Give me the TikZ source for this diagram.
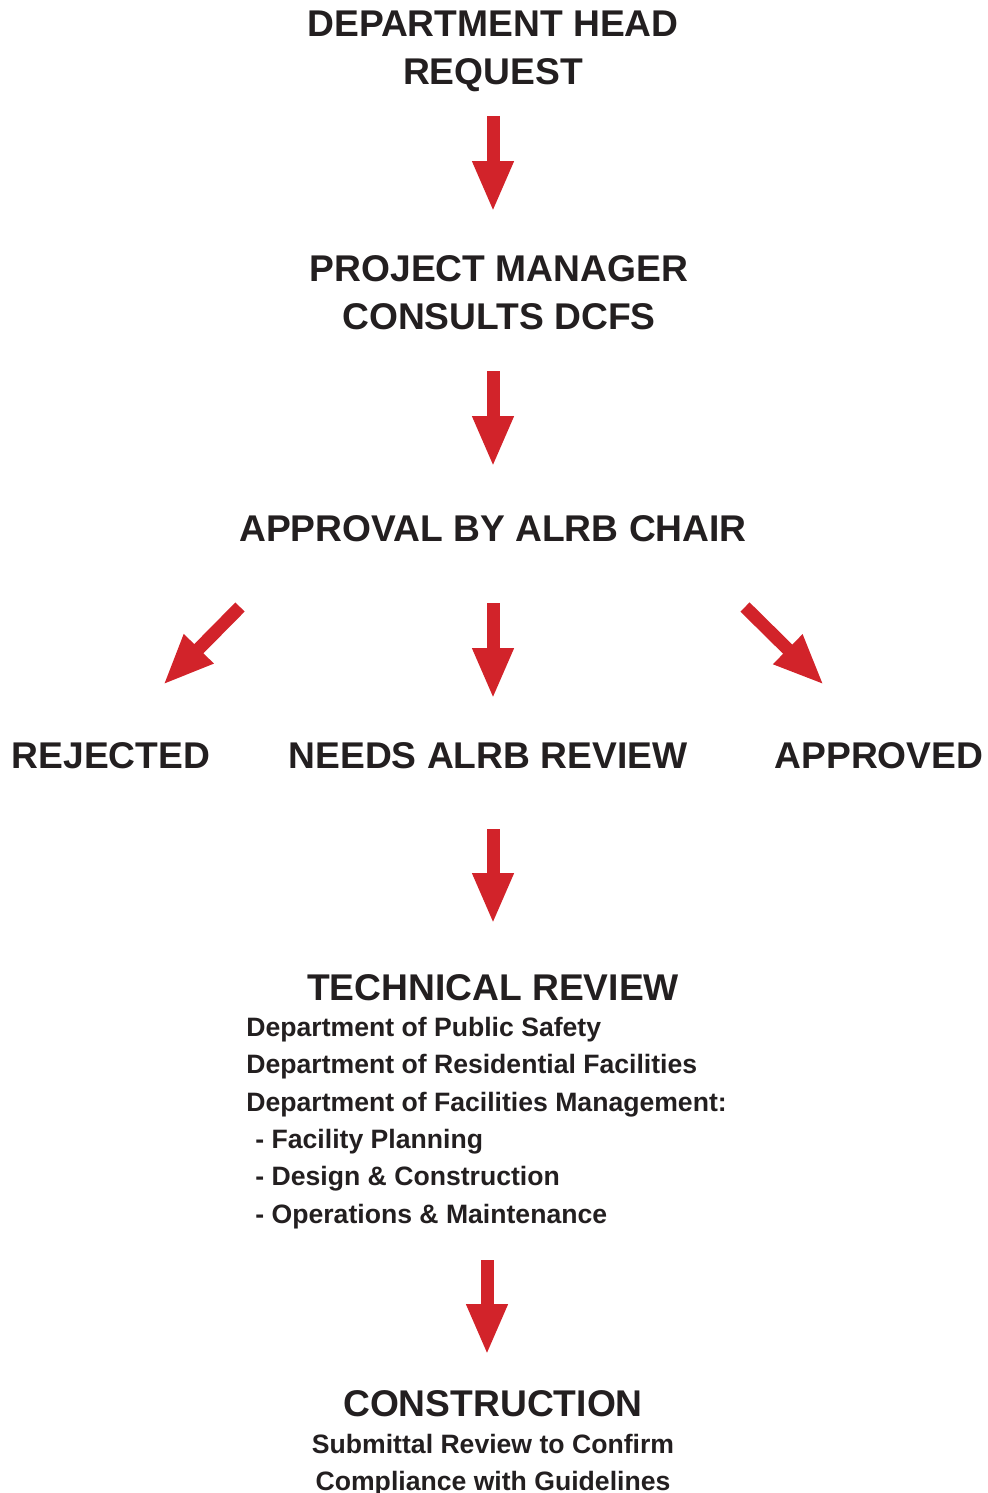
\documentclass[tikz,border=0pt]{standalone}
\usepackage{fontspec}
\setmainfont{Liberation Sans}
\usetikzlibrary{arrows.meta, positioning}
\definecolor{flowred}{HTML}{D2232A}
\definecolor{inkgray}{HTML}{231F20}

\begin{document}
\begin{tikzpicture}[x=0.5pt, y=-0.5pt,
  steptitle/.style={font=\fontsize{18.6pt}{24pt}\selectfont\bfseries, text=inkgray,
    anchor=base, inner sep=0pt},
  stepnote/.style={font=\fontsize{13.3pt}{18.75pt}\selectfont\bfseries, text=inkgray,
    anchor=base, inner sep=0pt},
  flowarrow/.style={flowred, line width=6.5pt,
    -{Triangle[length=25.5pt, width=19pt]}}]

% Page frame
\useasboundingbox (0,0) rectangle (987,1493);

% === Steps ===
\node[steptitle] (head1) at (493,37) {DEPARTMENT HEAD};
\node[steptitle] (head2) at (493,85) {REQUEST};

\node[steptitle] (pm1) at (499,281) {PROJECT MANAGER};
\node[steptitle] (pm2) at (499,329) {CONSULTS DCFS};

\node[steptitle] (chair) at (493,541) {APPROVAL BY ALRB CHAIR};

\node[steptitle] (rejected) at (111,768) {REJECTED};
\node[steptitle] (needs) at (488,768) {NEEDS ALRB REVIEW};
\node[steptitle] (approved) at (879,768) {APPROVED};

\node[steptitle] (tech) at (493,1000) {TECHNICAL REVIEW};
\node[stepnote, anchor=base west] (dps) at (246,1036) {Department of Public Safety};
\node[stepnote, anchor=base west] (drf) at (246,1073) {Department of Residential Facilities};
\node[stepnote, anchor=base west] (dfm) at (246,1111) {Department of Facilities Management:};
\node[stepnote, anchor=base west] (fp) at (255,1148) {- Facility Planning};
\node[stepnote, anchor=base west] (dc) at (255,1185) {- Design \& Construction};
\node[stepnote, anchor=base west] (om) at (255,1223) {- Operations \& Maintenance};

\node[steptitle] (constr) at (493,1416) {CONSTRUCTION};
\node[stepnote] (sub1) at (493,1453) {Submittal Review to Confirm};
\node[stepnote] (sub2) at (493,1490) {Compliance with Guidelines};

% === Arrow ends ===
\coordinate (a1s) at (493,116);  \coordinate (a1e) at (493,212);
\coordinate (a2s) at (493,371);  \coordinate (a2e) at (493,467);
\coordinate (a3s) at (493,603);  \coordinate (a3e) at (493,699);
\coordinate (als) at (240,607);  \coordinate (ale) at (163,685);
\coordinate (ars) at (745,607);  \coordinate (are) at (824,685);
\coordinate (a4s) at (493,829);  \coordinate (a4e) at (493,924);
\coordinate (a5s) at (487,1260); \coordinate (a5e) at (487,1355);

% === Arrows ===
\draw[flowarrow] (a1s) -- (a1e);
\draw[flowarrow] (a2s) -- (a2e);
\draw[flowarrow] (a3s) -- (a3e);
\draw[flowarrow] (als) -- (ale);
\draw[flowarrow] (ars) -- (are);
\draw[flowarrow] (a4s) -- (a4e);
\draw[flowarrow] (a5s) -- (a5e);

\end{tikzpicture}
\end{document}
